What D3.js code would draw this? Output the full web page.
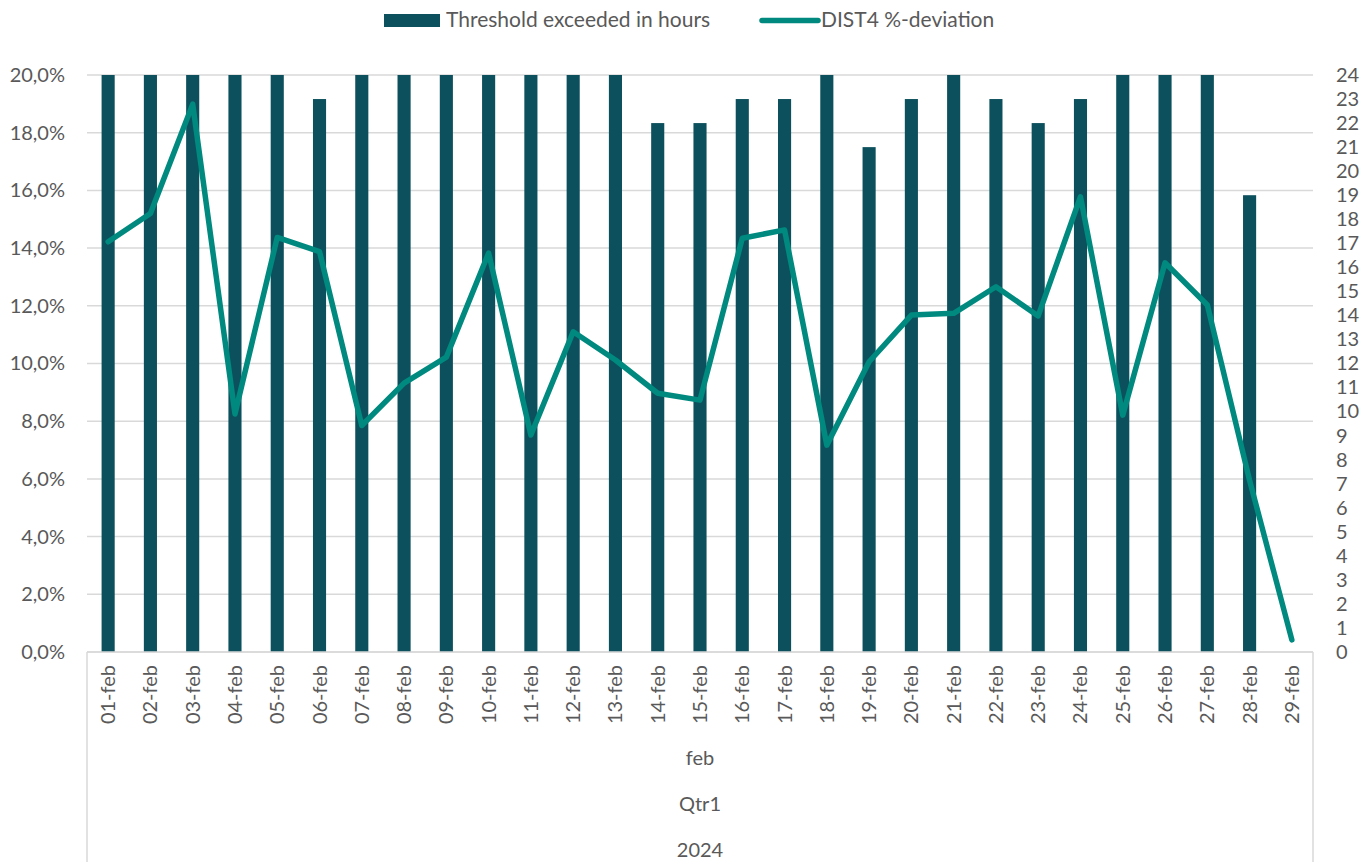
<!DOCTYPE html>
<html>
<head>
<meta charset="utf-8">
<script src="https://cdn.jsdelivr.net/npm/d3@7"></script>
<style>
  body { margin: 0; background: #fff; }
  text { font-family: Lato, "Open Sans", sans-serif; fill: #595959; }
</style>
</head>
<body>
<div id="vis"></div>
<script>
// data
const days = ['01-feb','02-feb','03-feb','04-feb','05-feb','06-feb','07-feb','08-feb','09-feb','10-feb',
  '11-feb','12-feb','13-feb','14-feb','15-feb','16-feb','17-feb','18-feb','19-feb','20-feb',
  '21-feb','22-feb','23-feb','24-feb','25-feb','26-feb','27-feb','28-feb','29-feb']
const hoursExceeded = [24,24,24,24,24,23,24,24,24,24,24,24,24,22,22,23,23,24,21,23,24,23,22,23,24,24,24,19,0]
const deviationPct = [14.22,15.2,18.99,8.25,14.37,13.88,7.85,9.32,10.22,13.83,7.52,11.1,10.12,8.97,8.73,14.34,14.63,7.17,10.06,
  11.68,11.74,12.66,11.65,15.78,8.21,13.49,12.03,5.95,0.42]
const pctTicks = [0,2,4,6,8,10,12,14,16,18,20]
const hourTicks = d3.range(0, 25)
const groupLabels = ['feb', 'Qtr1', '2024']

const barColor = '#0b505c'
const lineColor = '#00897f'
const gridColor = '#d9d9d9'

const W = 1371, H = 862
const margin = { left: 87, top: 75, right: 58, bottom: 210 }
const width = W - margin.left - margin.right
const height = H - margin.top - margin.bottom

const svg = d3.select('#vis').append('svg')
  .attr('width', W).attr('height', H)

const g = svg.append('g')
  .attr('transform', 'translate(' + margin.left + ',' + margin.top + ')')

const x = d3.scaleBand().domain(days).range([0, width])
  .paddingInner(0.69).paddingOuter(0.345)
const yPct = d3.scaleLinear().domain([0, 20]).range([height, 0])
const yHours = d3.scaleLinear().domain([0, 24]).range([height, 0])

// gridlines
g.append('g').selectAll('line').data(pctTicks).join('line')
  .attr('x1', 0).attr('x2', width)
  .attr('y1', d => yPct(d)).attr('y2', d => yPct(d))
  .attr('stroke', gridColor).attr('stroke-width', 1.5)

// left axis
const yAxisL = g.append('g')
  .call(d3.axisLeft(yPct).tickValues(pctTicks).tickSize(0).tickPadding(22)
    .tickFormat(d => d.toFixed(1).replace('.', ',') + '%'))
yAxisL.select('.domain').remove()
yAxisL.selectAll('text').style('font-size', '20px').style('fill', '#595959')

// right axis
const yAxisR = g.append('g')
  .attr('transform', 'translate(' + width + ',0)')
  .call(d3.axisRight(yHours).tickValues(hourTicks).tickSize(0).tickPadding(23))
yAxisR.select('.domain').remove()
yAxisR.selectAll('text').style('font-size', '20px').style('fill', '#595959')

// bars
g.append('g').selectAll('rect').data(days).join('rect')
  .attr('x', d => x(d))
  .attr('width', x.bandwidth())
  .attr('y', (d, i) => yHours(hoursExceeded[i]))
  .attr('height', (d, i) => height - yHours(hoursExceeded[i]))
  .attr('fill', barColor)

// line
g.append('path')
  .datum(days)
  .attr('fill', 'none')
  .attr('stroke', lineColor)
  .attr('stroke-width', 5.5)
  .attr('stroke-linejoin', 'round')
  .attr('stroke-linecap', 'round')
  .attr('d', d3.line()
    .x(d => x(d) + x.bandwidth() / 2)
    .y((d, i) => yPct(deviationPct[i])))

// category axis (multi level)
const xAxis = g.append('g').attr('transform', 'translate(0,' + height + ')')
xAxis.append('line').attr('x1', 0).attr('x2', width)
  .attr('stroke', gridColor).attr('stroke-width', 1.5)
xAxis.selectAll('line.sep').data([0, width]).join('line')
  .attr('class', 'sep')
  .attr('x1', d => d).attr('x2', d => d)
  .attr('y1', 0).attr('y2', margin.bottom)
  .attr('stroke', gridColor).attr('stroke-width', 1.5)

xAxis.selectAll('text.day').data(days).join('text')
  .attr('class', 'day')
  .attr('transform', d => 'translate(' + (x(d) + x.bandwidth() / 2 + 7) + ',13) rotate(-90)')
  .attr('text-anchor', 'end')
  .style('font-size', '20px')
  .text(d => d)

xAxis.selectAll('text.group').data(groupLabels).join('text')
  .attr('class', 'group')
  .attr('x', width / 2)
  .attr('y', (d, i) => 113 + i * 46)
  .attr('text-anchor', 'middle')
  .style('font-size', '20px')
  .text(d => d)

// legend
const legend = svg.append('g')
legend.append('rect')
  .attr('x', 384).attr('y', 14).attr('width', 56).attr('height', 13)
  .attr('fill', barColor)
legend.append('text')
  .attr('x', 446).attr('y', 27)
  .style('font-size', '21px')
  .text('Threshold exceeded in hours')
legend.append('line')
  .attr('x1', 762).attr('x2', 818).attr('y1', 20.5).attr('y2', 20.5)
  .attr('stroke', lineColor).attr('stroke-width', 5.5).attr('stroke-linecap', 'round')
legend.append('text')
  .attr('x', 821).attr('y', 27)
  .style('font-size', '21px')
  .text('DIST4 %-deviation')
</script>
</body>
</html>
